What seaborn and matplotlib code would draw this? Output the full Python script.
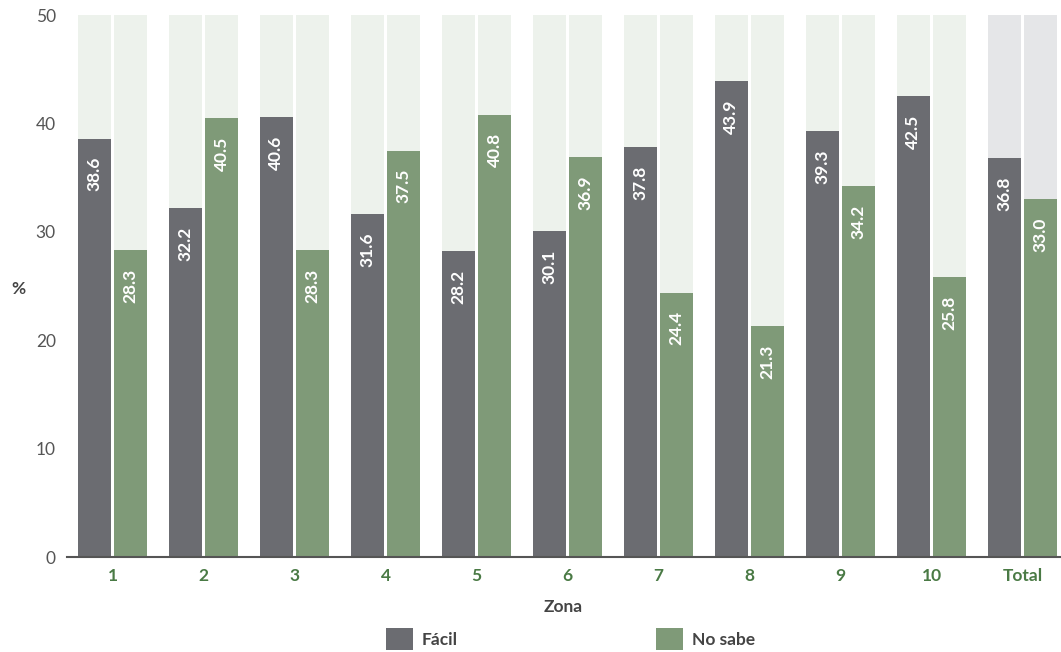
import matplotlib
matplotlib.use("Agg")
import matplotlib.pyplot as plt
from matplotlib.patches import Patch
import seaborn as sns
import pandas as pd

zonas = ["1", "2", "3", "4", "5", "6", "7", "8", "9", "10", "Total"]
facil = [38.6, 32.2, 40.6, 31.6, 28.2, 30.1, 37.8, 43.9, 39.3, 42.5, 36.8]
no_sabe = [28.3, 40.5, 28.3, 37.5, 40.8, 36.9, 24.4, 21.3, 34.2, 25.8, 33.0]
series = ["Fácil", "No sabe"]
y_max = 50

C_GREY = "#6b6c71"
C_GREEN = "#7f9a78"
C_BG = "#edf2ec"
C_BG_TOTAL = "#e5e6e8"
C_TICK_X = "#4a7a45"
C_TEXT = "#444444"

sns.set_theme(style="white")
plt.rcParams["font.family"] = ["Lato", "DejaVu Sans"]

df = pd.DataFrame({
    "Zona": zonas * 2,
    "Serie": [series[0]] * len(zonas) + [series[1]] * len(zonas),
    "valor": facil + no_sabe,
})
df_bg = df.copy()
df_bg["valor"] = y_max

W, H = 1061, 652
fig = plt.figure(figsize=(W / 100, H / 100), dpi=100)
ax = fig.add_axes([67 / W, 95 / H, 1001 / W, 542 / H])

sns.barplot(data=df_bg, x="Zona", y="valor", hue="Serie", order=zonas,
            hue_order=series, palette=[C_BG, C_BG], width=0.792, gap=0.083,
            saturation=1, legend=False, ax=ax, errorbar=None, linewidth=0)
for p in ax.patches:
    if p.get_x() + p.get_width() / 2 > 9.5:
        p.set_facecolor(C_BG_TOTAL)
n_bg = len(ax.containers)

sns.barplot(data=df, x="Zona", y="valor", hue="Serie", order=zonas,
            hue_order=series, palette=[C_GREY, C_GREEN], width=0.792, gap=0.083,
            saturation=1, legend=False, ax=ax, errorbar=None, linewidth=0)

for cont in ax.containers[n_bg:]:
    for bar in cont:
        v = bar.get_height()
        ax.text(bar.get_x() + bar.get_width() / 2, v - 1.7, f"{v:.1f}",
                rotation=90, ha="center", va="top", color="white",
                fontsize=12.5, fontweight="bold")

ax.set_xlim(-0.5, len(zonas) - 0.5)
ax.set_ylim(0, y_max)
ax.set_yticks(range(0, 51, 10))
ax.tick_params(axis="y", length=0, pad=8, labelsize=12.5, labelcolor="#555555")
ax.tick_params(axis="x", length=0, pad=8, labelsize=12.5, labelcolor=C_TICK_X)
for lab in ax.get_xticklabels():
    lab.set_fontweight("bold")
for s in ["left", "top", "right"]:
    ax.spines[s].set_visible(False)
ax.spines["bottom"].set_color("#555555")
ax.spines["bottom"].set_linewidth(1.5)
ax.set_xlabel("")
ax.set_ylabel("")

fig.text(18 / W, 1 - 289 / H, "%", ha="center", va="center", fontsize=12.5,
         fontweight="bold", color=C_TEXT)
fig.text(563 / W, 1 - 607 / H, "Zona", ha="center", va="center", fontsize=12.5,
         fontweight="bold", color=C_TEXT)

handles = [Patch(facecolor=C_GREY, edgecolor="none"),
           Patch(facecolor=C_GREEN, edgecolor="none")]
leg = fig.legend(handles, series, loc="center left",
                 bbox_to_anchor=(386 / W, 1 - 639 / H), ncol=2, frameon=False,
                 fontsize=12.5, handlelength=1.55, handleheight=1.55,
                 handletextpad=0.52, columnspacing=11.4, borderpad=0,
                 borderaxespad=0)
for t in leg.get_texts():
    t.set_fontweight("bold")
    t.set_color(C_TEXT)

fig.savefig("out.png", dpi=100)
